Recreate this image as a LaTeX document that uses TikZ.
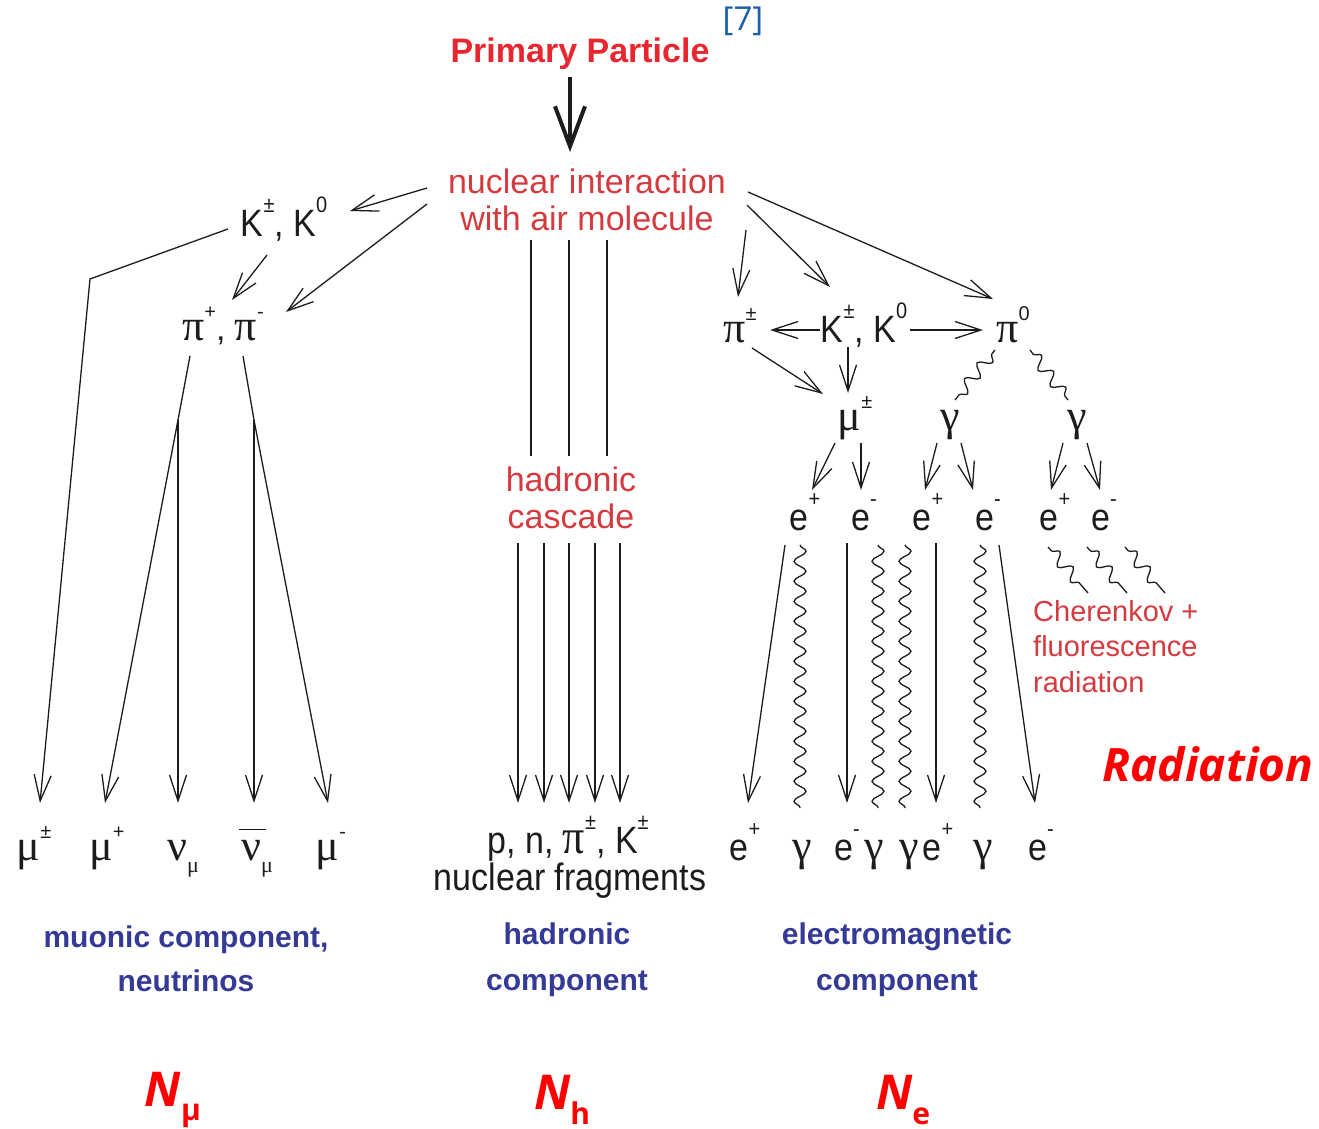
\documentclass[tikz,border=0pt]{standalone}
\usepackage{fontspec}
\usepackage{graphicx}
\setmainfont{Liberation Sans}
\newfontfamily\grk{Liberation Serif}
\newfontfamily\osans{Open Sans}
\usetikzlibrary{arrows.meta,decorations.pathmorphing}
\definecolor{hred}{RGB}{232,38,48}
\definecolor{tred}{RGB}{212,58,62}
\definecolor{cblue}{RGB}{52,58,150}
\definecolor{refblue}{RGB}{25,95,170}
\definecolor{ink}{RGB}{28,28,28}
\definecolor{pure}{RGB}{255,0,0}
\newcommand\su[1]{\raisebox{0.62em}{\fontsize{20}{20}\selectfont #1}}
\newcommand\sbs[1]{\raisebox{-0.38em}{\fontsize{22}{22}\selectfont #1}}
\newcommand\gk[1]{{\grk\fontsize{44}{46}\selectfont #1}}
\newcommand\tall[1]{\scalebox{1}[1.12]{#1}}
\newcommand\barnu{\rlap{\raisebox{30pt}{\hspace{-2pt}\rule{27pt}{1.4pt}}}\gk{ν}}
\tikzset{
  lbl/.style={inner sep=0pt, text=ink, font=\fontsize{34}{38}\selectfont, anchor=base},
  redtxt/.style={inner sep=0pt, text=tred, font=\fontsize{34}{37}\selectfont, align=center},
  bluetxt/.style={inner sep=0pt, text=cblue, font=\fontsize{30}{46}\selectfont\bfseries, align=center},
  bigN/.style={inner sep=0pt, text=pure, font=\osans\fontsize{48}{50}\selectfont\bfseries\itshape},
  ln/.style={draw=ink, line width=1.3pt},
  arr/.style={draw=ink, line width=1.3pt, -{Straight Barb[length=26pt,width=17pt,line width=1.3pt]}},
  wave/.style={draw=ink, line width=1.3pt, decorate, decoration={snake, segment length=20pt, amplitude=6pt}},
  swave/.style={draw=ink, line width=1.3pt, decorate, decoration={snake, segment length=20pt, amplitude=6pt, pre length=5pt, post length=5pt}},
}
\begin{document}
\begin{tikzpicture}[x=1pt,y=-1pt]
\useasboundingbox (0,0) rectangle (1319,1129);

% ---------- top ----------
\node[inner sep=0pt, text=refblue, font=\osans\fontsize{33}{35}\selectfont] (ref) at (743,21) {[7]};
\node[inner sep=0pt, text=hred, font=\fontsize{34}{38}\selectfont\bfseries] (prim) at (580,54) {Primary Particle};
\node[redtxt] (nuc) at (587,200) {nuclear interaction\\with air molecule};
\coordinate (pA) at (570,77); \coordinate (pB) at (570,152);
\draw[draw=ink, line width=4pt, -{Straight Barb[length=40pt,width=30pt,line width=4pt]}] (pA) -- (pB);

% ---------- muonic branch ----------
\node[lbl] (Kl) at (284,236) {\tall{K\su{±}, K\su{0}}};
\node[lbl] (pil) at (223,340) {\gk{π}\su{+}, \gk{π}\su{-}};
\coordinate (nL1) at (427,188); \coordinate (kL1) at (350,211);
\coordinate (nL2) at (427,204); \coordinate (piL1) at (286,312);
\coordinate (kL2) at (267,255); \coordinate (piL2) at (232,300);
\coordinate (kL3) at (228,229); \coordinate (bendL) at (90,279);
\coordinate (piL3) at (190,356); \coordinate (brL1) at (178,420);
\coordinate (piL4) at (243,356); \coordinate (brL2) at (254,420);
\coordinate (t1) at (40,803); \coordinate (t2) at (105,803); \coordinate (t3) at (178,803);
\coordinate (t4) at (254,803); \coordinate (t5) at (328,803);
\draw[arr] (nL1) -- (kL1);
\draw[arr] (nL2) -- (piL1);
\draw[arr] (kL2) -- (piL2);
\draw[arr] (kL3) -- (bendL) -- (t1);
\draw[ln] (piL3) -- (brL1);
\draw[arr] (brL1) -- (t2);
\draw[arr] (brL1) -- (t3);
\draw[ln] (piL4) -- (brL2);
\draw[arr] (brL2) -- (t4);
\draw[arr] (brL2) -- (t5);
\node[lbl] (m1) at (34,860) {\gk{μ}\su{±}};
\node[lbl] (m2) at (107,860) {\gk{μ}\su{+}};
\node[lbl] (m3) at (183,860) {\gk{ν}\sbs{\grk μ}};
\node[lbl] (m4) at (257,860) {\barnu\sbs{\grk μ}};
\node[lbl] (m5) at (331,860) {\gk{μ}\su{-}};

% ---------- hadronic branch ----------
\node[redtxt] (hc) at (571,498) {hadronic\\cascade};
\foreach \x/\n in {531/a,569/b,607/c}{
  \coordinate (hu\n) at (\x,240); \coordinate (hd\n) at (\x,456);
  \draw[ln] (hu\n) -- (hd\n);
}
\foreach \x/\n in {518/a,544/b,569/c,595/d,620/e}{
  \coordinate (hs\n) at (\x,543); \coordinate (he\n) at (\x,803);
  \draw[arr] (hs\n) -- (he\n);
}
\node[lbl] (hf1) at (568,853) {\tall{p, n, \gk{π}\su{±}, K\su{±}}};
\node[lbl] (hf2) at (570,890) {\tall{nuclear fragments}};

% ---------- electromagnetic branch ----------
\node[lbl] (piR) at (740,342) {\gk{π}\su{±}};
\node[lbl] (KR) at (864,342) {\tall{K\su{±}, K\su{0}}};
\node[lbl] (pi0) at (1013,342) {\gk{π}\su{0}};
\node[lbl] (muR) at (855,430) {\gk{μ}\su{±}};
\node[lbl] (g1) at (950,430) {\gk{γ}};
\node[lbl] (g2) at (1077,430) {\gk{γ}};
\node[lbl] (e1) at (805,530) {\tall{e\su{+}}};
\node[lbl] (e2) at (864,530) {\tall{e\su{-}}};
\node[lbl] (e3) at (928,530) {\tall{e\su{+}}};
\node[lbl] (e4) at (988,530) {\tall{e\su{-}}};
\node[lbl] (e5) at (1055,530) {\tall{e\su{+}}};
\node[lbl] (e6) at (1104,530) {\tall{e\su{-}}};

\coordinate (nR1) at (746,230); \coordinate (pR1) at (738,297);
\coordinate (nR2) at (747,205); \coordinate (kR1) at (830,287);
\coordinate (nR3) at (748,192); \coordinate (z1) at (993,299);
\draw[arr] (nR1) -- (pR1);
\draw[arr] (nR2) -- (kR1);
\draw[arr] (nR3) -- (z1);
\coordinate (kR2) at (820,330); \coordinate (pR2) at (770,330);
\coordinate (kR3) at (910,330); \coordinate (z2) at (983,330);
\draw[arr] (kR2) -- (pR2);
\draw[arr] (kR3) -- (z2);
\coordinate (pR3) at (752,348); \coordinate (mR1) at (823,394);
\coordinate (kR4) at (848,347); \coordinate (mR2) at (848,393);
\draw[arr] (pR3) -- (mR1);
\draw[arr] (kR4) -- (mR2);
\coordinate (z3) at (995,350); \coordinate (gA) at (955,400);
\coordinate (z4) at (1030,350); \coordinate (gB) at (1068,400);
\draw[swave] (z3) -- (gA);
\draw[swave] (z4) -- (gB);
\foreach \a/\b/\n in {835/812/a,861/861/b,937/925/c,961/973/d,1063/1051/e,1087/1100/f}{
  \coordinate (ds\n) at (\a,443); \coordinate (de\n) at (\b,490);
  \draw[arr] (ds\n) -- (de\n);
}
% long em tracks
\coordinate (L1a) at (785,545); \coordinate (L1b) at (748,803);
\draw[arr] (L1a) -- (L1b);
\foreach \x/\n in {800/a,878/b,905/c,980/d}{
  \coordinate (wa\n) at (\x,545); \coordinate (wb\n) at (\x,808);
  \draw[wave] (wa\n) -- (wb\n);
}
\foreach \x/\n in {847/a,936/b}{
  \coordinate (va\n) at (\x,543); \coordinate (vb\n) at (\x,803);
  \draw[arr] (va\n) -- (vb\n);
}
\coordinate (L2a) at (999,545); \coordinate (L2b) at (1035,803);
\draw[arr] (L2a) -- (L2b);
% Cherenkov squiggles
\foreach \x/\n in {1048/a,1087/b,1125/c}{
  \coordinate (ca\n) at (\x,547); \coordinate (cb\n) at (\x+40,593);
  \draw[swave] (ca\n) -- (cb\n);
}
\node[inner sep=0pt, text=tred, font=\fontsize{29}{35.5}\selectfont, align=left, anchor=north west] (cher) at (1033,600) {Cherenkov +\\fluorescence\\radiation};

\node[lbl] (b1) at (745,860) {\tall{e\su{+}}};
\node[lbl] (b2) at (802,860) {\gk{γ}};
\node[lbl] (b3) at (847,860) {\tall{e\su{-}}};
\node[lbl] (b4) at (874,860) {\gk{γ}};
\node[lbl] (b5) at (909,860) {\gk{γ}};
\node[lbl] (b6) at (938,860) {\tall{e\su{+}}};
\node[lbl] (b7) at (983,860) {\gk{γ}};
\node[lbl] (b8) at (1041,860) {\tall{e\su{-}}};

% ---------- captions ----------
\node[bluetxt, font=\fontsize{30}{44}\selectfont\bfseries] (cm) at (186,959) {muonic component,\\neutrinos};
\node[bluetxt] (ch) at (567,960) {hadronic\\component};
\node[bluetxt] (ce) at (897,960) {electromagnetic\\component};
\node[bigN] (Nm) at (173,1100) {N\raisebox{-0.3em}{\fontsize{30}{30}\selectfont\upshape μ}};
\node[bigN] (Nh) at (562,1100) {N\raisebox{-0.3em}{\fontsize{30}{30}\selectfont\upshape h}};
\node[bigN] (Ne) at (903,1100) {N\raisebox{-0.3em}{\fontsize{30}{30}\selectfont\upshape e}};
\node[inner sep=0pt, text=pure, font=\osans\fontsize{46}{50}\selectfont\bfseries\itshape] (rad) at (1208,764) {Radiation};
\end{tikzpicture}
\end{document}
